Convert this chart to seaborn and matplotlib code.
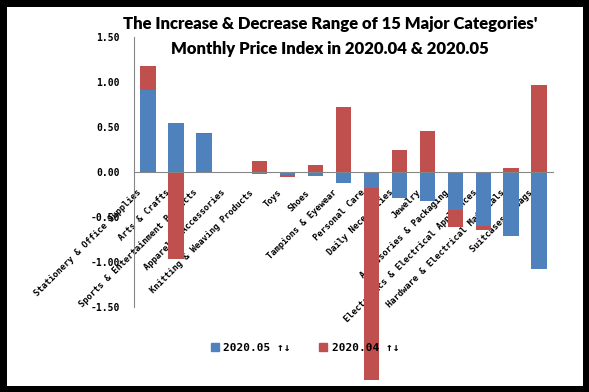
import matplotlib.pyplot as plt
import matplotlib.transforms as mtransforms
import seaborn as sns
import pandas as pd
from matplotlib.patches import Patch

categories = [
    "Stationery & Office Supplies", "Arts & Crafts", "Sports & Entertainment Products",
    "Apparel & Accessories", "Knitting & Weaving Products", "Toys", "Shoes",
    "Tampions & Eyewear", "Personal Care", "Daily Necessities", "Jewelry",
    "Accessories & Packaging", "Electronics & Electrical Appliances",
    "Hardware & Electrical Materials", "Suitcases & Bags",
]
may_values = [0.91, 0.54, 0.42, 0.00, -0.02, -0.03, -0.04, -0.12, -0.18,
              -0.29, -0.32, -0.42, -0.60, -0.71, -1.08]
apr_values = [0.27, -0.97, 0.01, 0.00, 0.12, -0.02, 0.08, 0.72, -2.13,
              0.25, 0.46, -0.19, -0.04, 0.04, 0.97]
series_names = ["2020.05 ↑↓", "2020.04 ↑↓"]
y_ticks = [-1.5, -1.0, -0.5, 0.0, 0.5, 1.0, 1.5]

BLUE = "#4F81BD"
RED = "#C0504D"
MONO = "DejaVu Sans Mono"
TITLE_FONT = ["Lato", "DejaVu Sans"]

df = pd.DataFrame({"category": categories, "may": may_values, "apr": apr_values})
# Excel-style stacking: red sits on top of blue when both share a sign
same_sign = (df["may"] * df["apr"]) > 0
df["apr_total"] = df["apr"] + df["may"].where(same_sign, 0)

sns.set_style("white")
plt.rcParams["text.color"] = "black"
plt.rcParams["xtick.color"] = "black"
plt.rcParams["ytick.color"] = "black"

fig = plt.figure(figsize=(5.89, 3.92), dpi=100)
fig.patch.set_facecolor("white")
fig.patch.set_edgecolor("black")
fig.patch.set_linewidth(9)
ax = fig.add_axes([0.2275, 0.2168, 0.7115, 0.6888])

# red (total) first, blue drawn over it
sns.barplot(data=df, x="category", y="apr_total", order=categories, color=RED,
            saturation=1, width=0.55, ax=ax, clip_on=False, linewidth=0)
sns.barplot(data=df, x="category", y="may", order=categories, color=BLUE,
            saturation=1, width=0.55, ax=ax, clip_on=False, linewidth=0)

ax.set_ylim(-1.5, 1.5)
ax.set_xlim(-0.5, len(categories) - 0.5)
ax.set_yticks(y_ticks)
ax.set_yticklabels([f"{v:.2f}" for v in y_ticks], fontfamily=MONO,
                   fontweight="bold", fontsize=7)
ax.tick_params(axis="y", length=0, pad=10)
ax.set_xlabel("")
ax.set_ylabel("")

ax.spines["top"].set_visible(False)
ax.spines["right"].set_visible(False)
ax.spines["left"].set_color("#868686")
ax.spines["bottom"].set_color("#868686")
ax.spines["bottom"].set_position(("data", 0))
ax.set_xticks(range(len(categories)))
ax.set_xticklabels(categories, rotation=45, ha="right", va="top",
                   rotation_mode="anchor", fontfamily=MONO,
                   fontweight="bold", fontsize=6.3)
ax.tick_params(axis="x", length=0, pad=0)
shift = mtransforms.ScaledTranslation(-0.11, -0.16, fig.dpi_scale_trans)
for lbl in ax.get_xticklabels():
    lbl.set_transform(lbl.get_transform() + shift)

fig.text(330 / 589, 1 - 24 / 392, "The Increase & Decrease Range of 15 Major Categories'",
         ha="center", va="center", fontsize=12, fontweight="heavy",
         family=TITLE_FONT)
fig.text(330 / 589, 1 - 49 / 392, "Monthly Price Index in 2020.04 & 2020.05",
         ha="center", va="center", fontsize=12, fontweight="heavy",
         family=TITLE_FONT)

handles = [Patch(color=BLUE), Patch(color=RED)]
fig.legend(handles, series_names, loc="center", ncol=2, frameon=False,
           bbox_to_anchor=(305 / 589, 1 - 348 / 392), handlelength=0.7,
           handleheight=0.7, columnspacing=2.6, handletextpad=0.4,
           prop={"family": MONO, "weight": "bold", "size": 8})

fig.savefig("out.png", dpi=100, facecolor=fig.get_facecolor(),
            edgecolor=fig.get_edgecolor())
